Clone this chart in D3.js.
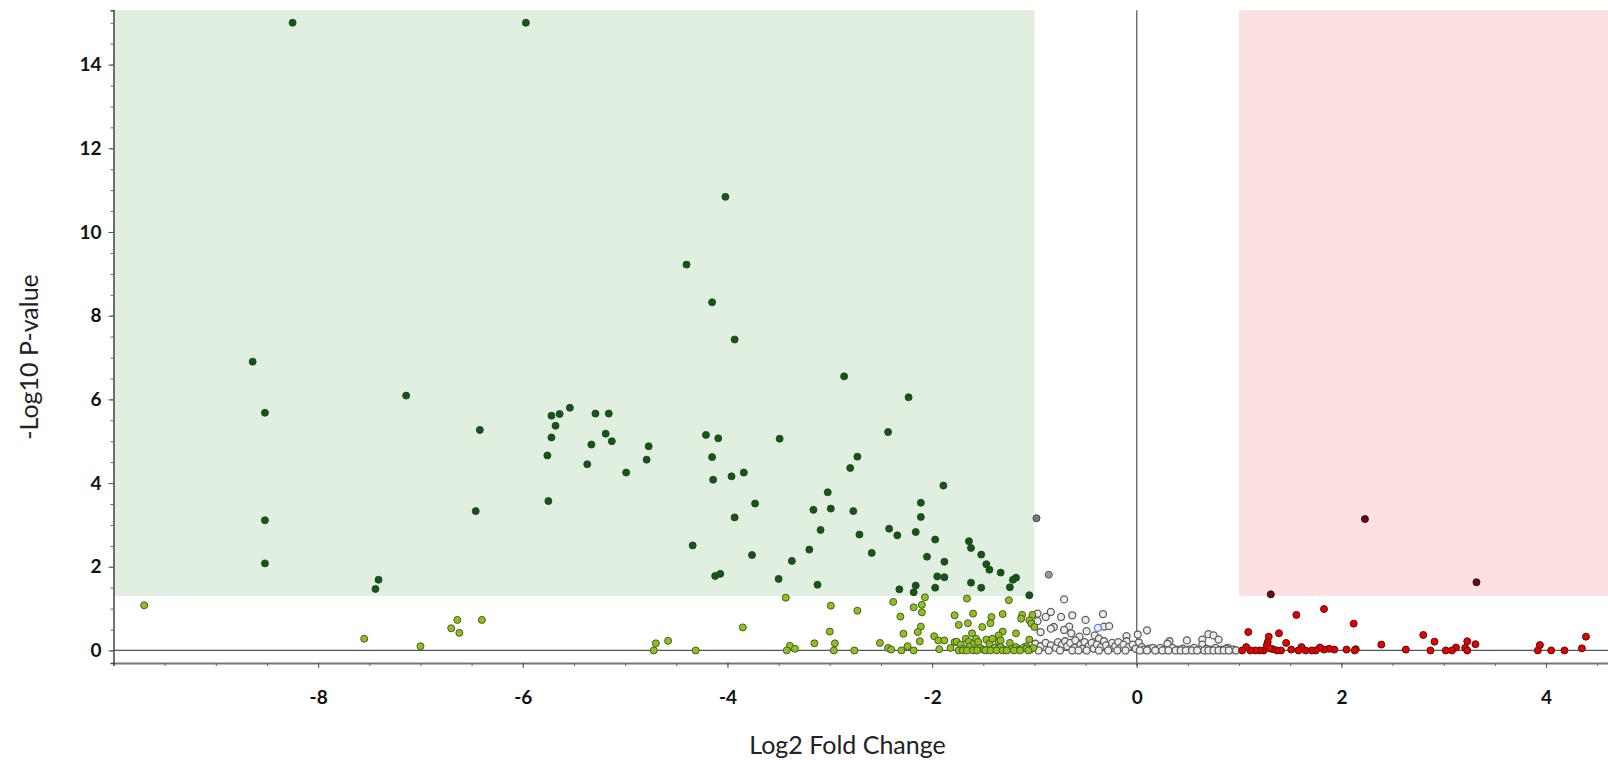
<!DOCTYPE html>
<html>
<head>
<meta charset="utf-8">
<script src="https://cdn.jsdelivr.net/npm/d3@7"></script>
<style>
  body { margin: 0; background: #fff; }
  svg { display: block; }
</style>
</head>
<body>
<div id="volcano"></div>
<script>
// [log2 fold change, -log10 p-value]
const sigDown = [
  [-8.25, 15.0], [-5.97, 15.0], [-4.02, 10.84], [-4.40, 9.22], [-4.15, 8.32], [-3.93, 7.43],
  [-8.64, 6.90], [-2.86, 6.55], [-7.14, 6.09], [-2.23, 6.05], [-8.52, 5.68],
  [-5.54, 5.80], [-5.72, 5.61], [-5.64, 5.65], [-5.29, 5.66], [-5.16, 5.66], [-5.68, 5.37],
  [-5.72, 5.09], [-5.19, 5.18], [-5.13, 5.00], [-5.33, 4.92], [-4.77, 4.88], [-5.76, 4.66],
  [-4.79, 4.56], [-5.37, 4.45], [-4.99, 4.25], [-5.75, 3.57],
  [-6.42, 5.27], [-6.46, 3.33], [-8.52, 3.11], [-8.52, 2.08], [-7.41, 1.69], [-7.44, 1.47],
  [-4.21, 5.15], [-4.09, 5.07], [-3.49, 5.06], [-4.15, 4.62], [-4.14, 4.08], [-3.96, 4.16],
  [-3.84, 4.25], [-3.73, 3.51], [-3.93, 3.18], [-4.34, 2.51], [-3.76, 2.28], [-4.12, 1.78],
  [-4.07, 1.83], [-3.50, 1.71], [-3.37, 2.14], [-3.20, 2.41], [-3.12, 1.57], [-3.09, 2.88],
  [-3.16, 3.36], [-2.99, 3.39], [-3.02, 3.78], [-2.80, 4.36], [-2.73, 4.63], [-2.77, 3.33],
  [-2.71, 2.77], [-2.43, 5.22], [-1.89, 3.94], [-2.11, 3.53], [-2.11, 3.19], [-2.42, 2.91],
  [-2.34, 2.75], [-2.16, 2.83], [-1.97, 2.65], [-1.64, 2.61], [-1.62, 2.45], [-1.52, 2.29],
  [-1.47, 2.06], [-1.44, 1.93], [-1.33, 1.86], [-1.18, 1.74], [-1.21, 1.69], [-1.24, 1.51],
  [-1.05, 1.32], [-2.05, 2.24], [-1.88, 2.12], [-2.59, 2.33], [-1.95, 1.77], [-1.88, 1.75],
  [-2.32, 1.46], [-2.16, 1.55], [-2.18, 1.39], [-1.97, 1.50], [-1.62, 1.62], [-1.52, 1.50]
];

const downNotSig = [
  [-9.70, 1.08], [-7.55, 0.28], [-7.00, 0.10], [-6.70, 0.53], [-6.64, 0.73], [-6.62, 0.42],
  [-6.40, 0.73], [-4.70, 0.17], [-4.58, 0.23], [-4.72, 0], [-4.31, 0], [-3.85, 0.55],
  [-3.43, 1.26], [-3.39, 0.11], [-3.42, 0], [-3.34, 0.04], [-2.99, 1.07], [-2.73, 0.95],
  [-2.38, 1.16], [-2.07, 1.27], [-1.66, 1.24], [-1.25, 1.20], [-2.18, 1.03], [-2.10, 1.09],
  [-2.10, 0.91], [-2.31, 0.81], [-1.78, 0.84], [-1.60, 0.88], [-1.42, 0.80], [-1.31, 0.87],
  [-1.12, 0.85], [-1.13, 0.76], [-1.02, 0.85], [-1.05, 0.72], [-1.03, 0.64], [-1.74, 0.61],
  [-1.65, 0.65], [-1.43, 0.65], [-1.51, 0.56], [-1.31, 0.45], [-1.18, 0.41], [-3.00, 0.45],
  [-2.11, 0.57], [-2.14, 0.44], [-2.28, 0.40], [-1.98, 0.34], [-1.61, 0.41], [-1.35, 0.36],
  [-1.05, 0.26], [-1.94, 0.24], [-1.88, 0.24], [-2.12, 0.22], [-3.15, 0.17], [-2.95, 0.17],
  [-2.51, 0.18], [-2.96, 0], [-2.76, 0], [-2.43, 0.06], [-2.40, 0.02], [-2.30, 0],
  [-2.24, 0.10], [-2.18, 0], [-1.93, 0.03], [-1.82, 0.06], [-1.78, 0.20], [-1.00, 0.56],
  [-1.08, 0.10], [-1.76, 0.21], [-1.72, 0.14], [-1.69, 0.04], [-1.67, 0.28], [-1.64, 0.21],
  [-1.63, 0.10], [-1.59, 0.18], [-1.57, 0.28], [-1.55, 0.20], [-1.53, 0.06], [-1.50, 0.02],
  [-1.47, 0.26], [-1.44, 0.16], [-1.41, 0.28], [-1.39, 0.06], [-1.35, 0.21], [-1.33, 0.24],
  [-1.33, 0.08], [-1.29, 0.02], [-1.24, 0.18], [-1.22, 0.04], [-1.18, 0.08], [-1.15, 0.02],
  [-1.11, 0.06], [-1.08, 0.04], [-1.04, 0.02], [-1.01, 0.06], [-1.74, 0], [-1.70, 0],
  [-1.66, 0], [-1.60, 0], [-1.56, 0], [-1.48, 0], [-1.43, 0], [-1.37, 0], [-1.31, 0],
  [-1.27, 0], [-1.20, 0], [-1.14, 0], [-1.06, 0]
];

const notSig = [
  [-0.71, 1.22], [-0.33, 0.87], [-0.63, 0.84], [-0.84, 0.92], [-0.89, 0.80], [-0.97, 0.88],
  [-0.74, 0.80], [-0.50, 0.73], [-0.81, 0.56], [-0.84, 0.52], [-0.66, 0.57], [-0.94, 0.44],
  [-0.71, 0.49], [-0.64, 0.41], [-0.56, 0.33], [-0.49, 0.46], [-0.32, 0.57], [-0.27, 0.58],
  [-0.41, 0.36], [-0.37, 0.28], [-0.10, 0.34], [0.01, 0.38], [0.10, 0.48], [-0.10, 0.22],
  [0.02, 0.19], [0.32, 0.22], [0.30, 0.16], [0.49, 0.24], [0.64, 0.26], [0.70, 0.39],
  [0.75, 0.36], [0.80, 0.26], [0.64, 0.14], [0.89, 0.06], [0.95, 0.02], [-0.97, 0.70],
  [-0.99, 0.16], [-0.94, 0.10], [-0.89, 0.18], [-0.84, 0.12], [-0.79, 0.06], [-0.77, 0.20],
  [-0.73, 0.14], [-0.70, 0.22], [-0.68, 0.10], [-0.65, 0.18], [-0.61, 0.06], [-0.60, 0.24],
  [-0.55, 0.14], [-0.53, 0.04], [-0.51, 0.20], [-0.47, 0.10], [-0.44, 0.18], [-0.42, 0.04],
  [-0.39, 0.14], [-0.35, 0.08], [-0.32, 0.22], [-0.30, 0.12], [-0.26, 0.04], [-0.24, 0.18],
  [-0.21, 0.10], [-0.18, 0.20], [-0.16, 0.06], [-0.13, 0.14], [-0.08, 0.08], [-0.04, 0.14],
  [-0.01, 0.04], [0.05, 0.08], [0.07, 0.02], [0.12, 0.04], [0.16, 0.06], [0.20, 0.02],
  [0.23, 0.06], [0.27, 0.02], [0.35, 0.06], [0.40, 0.02], [0.45, 0.04], [0.51, 0.02],
  [0.56, 0.06], [0.61, 0.02], [0.68, 0.04], [0.72, 0.02], [0.77, 0.06], [0.82, 0.02],
  [0.87, 0.04], [0.92, 0.02], [-0.96, 0], [-0.86, 0], [-0.75, 0], [-0.63, 0], [-0.57, 0],
  [-0.49, 0], [-0.37, 0], [-0.28, 0], [-0.19, 0], [-0.11, 0], [0.03, 0], [0.10, 0],
  [0.18, 0], [0.25, 0], [0.31, 0], [0.38, 0], [0.43, 0], [0.48, 0], [0.54, 0], [0.59, 0],
  [0.66, 0], [0.70, 0], [0.75, 0], [0.80, 0], [0.85, 0], [0.90, 0], [0.97, 0]
];

const upNotSig = [
  [1.83, 0.99], [1.56, 0.85], [2.12, 0.64], [1.09, 0.44], [1.39, 0.41], [1.29, 0.33],
  [1.28, 0.20], [1.46, 0.18], [2.80, 0.37], [2.91, 0.21], [3.23, 0.22], [3.31, 0.15],
  [3.21, 0.06], [3.23, 0], [3.12, 0.07], [3.08, 0], [3.02, 0], [2.87, 0], [2.63, 0.02],
  [2.39, 0.14], [2.14, 0.03], [2.13, 0], [2.05, 0.02], [1.93, 0.02], [1.88, 0.04],
  [1.83, 0.02], [1.79, 0.07], [1.75, 0], [1.71, 0], [1.65, 0], [1.61, 0.08], [1.58, 0],
  [1.51, 0.02], [1.41, 0], [1.37, 0], [1.33, 0.03], [1.28, 0.08], [1.24, 0], [1.20, 0],
  [1.16, 0], [1.11, 0], [1.07, 0.08], [1.03, 0], [1.27, 0.12], [1.30, 0.05],
  [3.92, 0], [3.94, 0.13], [4.05, 0], [4.18, 0], [4.35, 0.05], [4.39, 0.33]
];

const sigUp = [[2.23, 3.14], [3.32, 1.63], [1.31, 1.34]];

// odd ones out
const darkGrey = [[-0.98, 3.16]];
const midGrey = [[-0.86, 1.81]];
const blueRing = [[-0.38, 0.54]];

const xLabels = [-8, -6, -4, -2, 0, 2, 4];
const yLabels = [0, 2, 4, 6, 8, 10, 12, 14];
const fcCut = 1;
const pCut = 1.3;

const W = 1608, H = 760;
const plotLeft = 113.5, plotRight = 1609.5, plotTop = 10.2, plotBottom = 663;

const svg = d3.select("#volcano")
    .append("svg")
    .attr("width", W)
    .attr("height", H);

const x = d3.scaleLinear().domain([-10, 4.62]).range([plotLeft, plotRight]);
const y = d3.scaleLinear().domain([-0.3, 15.3]).range([plotBottom, plotTop]);

// shaded significance regions
svg.append("rect")
    .attr("x", x(-10)).attr("y", y(15.3))
    .attr("width", x(-fcCut) - x(-10))
    .attr("height", y(pCut) - y(15.3))
    .attr("fill", "#e1efe1");

svg.append("rect")
    .attr("x", x(fcCut)).attr("y", y(15.3))
    .attr("width", x(4.62) - x(fcCut))
    .attr("height", y(pCut) - y(15.3))
    .attr("fill", "#fde0e1");

// zero lines
svg.append("line")
    .attr("x1", x(-10)).attr("x2", x(4.62))
    .attr("y1", y(0)).attr("y2", y(0))
    .attr("stroke", "#555").attr("stroke-width", 1.2);

svg.append("line")
    .attr("x1", x(0)).attr("x2", x(0))
    .attr("y1", y(15.3)).attr("y2", plotBottom + 3)
    .attr("stroke", "#555").attr("stroke-width", 1.2);

// X axis: minor ticks then labelled ones
const xMinor = d3.range(-10, 4.6, 0.5);
svg.append("g")
    .attr("transform", `translate(0, ${plotBottom})`)
    .call(d3.axisBottom(x).tickValues(xMinor).tickSize(3).tickFormat(""))
    .call(g => g.select(".domain").attr("stroke", "#777").attr("stroke-width", 2))
    .call(g => g.selectAll(".tick line").attr("stroke", "#666"));

svg.append("g")
    .attr("transform", `translate(0, ${plotBottom})`)
    .call(d3.axisBottom(x).tickValues(xLabels).tickSize(5).tickFormat(d => String(d)))
    .call(g => g.select(".domain").remove())
    .call(g => g.selectAll(".tick line").attr("stroke", "#555"))
    .call(g => g.selectAll("text")
        .attr("y", 41).attr("dy", 0)
        .attr("font-family", "Lato, sans-serif")
        .attr("font-weight", "bold")
        .attr("font-size", 19)
        .attr("fill", "#111"));

// Y axis
const yMinor = d3.range(0, 15.3, 0.5);
svg.append("g")
    .attr("transform", `translate(${plotLeft}, 0)`)
    .call(d3.axisLeft(y).tickValues(yMinor).tickSize(3).tickFormat(""))
    .call(g => g.select(".domain").attr("stroke", "#444").attr("stroke-width", 1.5))
    .call(g => g.selectAll(".tick line").attr("stroke", "#666"));

svg.append("g")
    .attr("transform", `translate(${plotLeft}, 0)`)
    .call(d3.axisLeft(y).tickValues(yLabels).tickSize(5).tickFormat(d => String(d)))
    .call(g => g.select(".domain").remove())
    .call(g => g.selectAll(".tick line").attr("stroke", "#555"))
    .call(g => g.selectAll("text")
        .attr("x", -12)
        .attr("font-family", "Lato, sans-serif")
        .attr("font-weight", "bold")
        .attr("font-size", 19)
        .attr("fill", "#111"));

// axis titles
svg.append("text")
    .attr("x", 847.5).attr("y", 754)
    .attr("text-anchor", "middle")
    .attr("font-family", "Lato, sans-serif")
    .attr("font-size", 25)
    .attr("fill", "#222")
    .text("Log2 Fold Change");

svg.append("text")
    .attr("transform", "translate(38, 357) rotate(-90)")
    .attr("text-anchor", "middle")
    .attr("font-family", "Lato, sans-serif")
    .attr("font-size", 25)
    .attr("fill", "#222")
    .text("-Log10 P-value");

// points, drawn back to front
const groups = [
  {data: notSig, fill: "#eeeeee", stroke: "#5e5e5e", w: 1.3},
  {data: downNotSig, fill: "#8cc21e", stroke: "#4d5a2a", w: 1},
  {data: upNotSig, fill: "#e30000", stroke: "#5a1010", w: 1},
  {data: sigDown, fill: "#0b5c0b", stroke: "#2e3a2e", w: 0.9},
  {data: sigUp, fill: "#6a0a0a", stroke: "#2a0a0a", w: 0.9},
  {data: midGrey, fill: "#9a9a9a", stroke: "#555", w: 1},
  {data: darkGrey, fill: "#7a7a7a", stroke: "#444", w: 1},
  {data: blueRing, fill: "#eef2ff", stroke: "#5b7cff", w: 1.3}
];

groups.forEach(grp => {
  svg.append("g")
    .selectAll("circle")
    .data(grp.data)
    .join("circle")
    .attr("cx", d => x(d[0]))
    .attr("cy", d => y(d[1]))
    .attr("r", 3.5)
    .attr("fill", grp.fill)
    .attr("stroke", grp.stroke)
    .attr("stroke-width", grp.w);
});
</script>
</body>
</html>
